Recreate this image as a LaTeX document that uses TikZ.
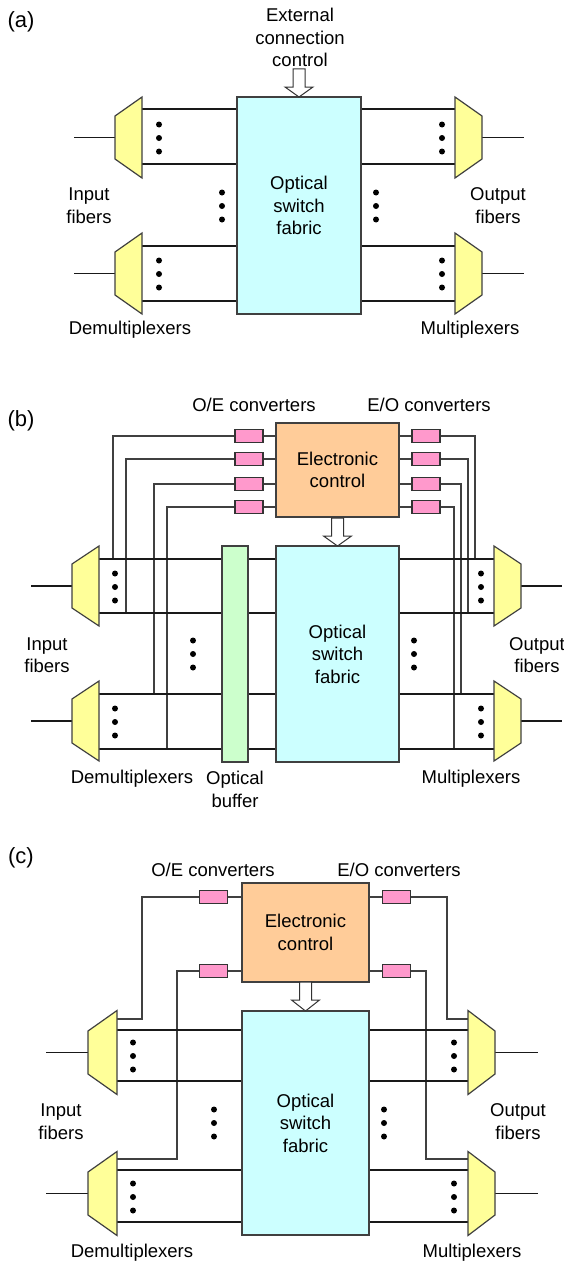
\documentclass[tikz,border=0pt]{standalone}
\usepackage{fontspec}
\setmainfont{Liberation Sans}
\definecolor{fabcol}{HTML}{CCFFFF}
\definecolor{muxcol}{HTML}{FFFF99}
\definecolor{ctlcol}{HTML}{FFCC99}
\definecolor{oecol}{HTML}{FF99CC}
\definecolor{bufcol}{HTML}{CCFFCC}
\newcommand\trapz[5]{\filldraw[boxline, fill=muxcol] (#1,#3-#4) -- (#1,#3+#4) -- (#2,#3+#5) -- (#2,#3-#5) -- cycle;}
\newcommand\mydots[2]{\fill (#1,#2-13.5) circle (3) (#1,#2) circle (3) (#1,#2+13.5) circle (3);}
\newcommand\hollowarrow[4]{\filldraw[draw=black!80, line width=1pt, fill=white] (#1-6,#2) -- (#1+6,#2) -- (#1+6,#3) -- (#1+14,#3) -- (#1,#4) -- (#1-14,#3) -- (#1-6,#3) -- cycle;}
\begin{document}
\begin{tikzpicture}[x=1pt,y=-1pt,
  lbl/.style={font=\fontsize{18.5}{22.5}\selectfont, align=center, inner sep=0pt},
  plbl/.style={font=\fontsize{22}{26}\selectfont, inner sep=0pt},
  chan/.style={line width=1.8pt, black!90},
  wire/.style={line width=1.1pt, black!75},
  boxline/.style={draw=black!75, line width=1.2pt},
  fabric/.style={boxline, fill=fabcol, align=center, inner sep=0pt, font=\fontsize{18.5}{22.5}\selectfont},
  ctl/.style={boxline, fill=ctlcol, align=center, inner sep=0pt, font=\fontsize{18.5}{22.5}\selectfont},
  buf/.style={boxline, fill=bufcol, inner sep=0pt},
  conv/.style={draw=black!80, line width=1.2pt, fill=oecol, minimum width=28pt, minimum height=13pt, inner sep=0pt}]
\useasboundingbox (0,0) rectangle (564,1263);

% ================= (a) =================
\foreach \y in {109,164,246,301} {
  \draw[chan] (142,\y) -- (237,\y);
  \draw[chan] (361,\y) -- (455,\y);
}
\draw[chan] (74,137.5) -- (115,137.5);
\draw[chan] (74,273.5) -- (115,273.5);
\draw[chan] (482,137.5) -- (524,137.5);
\draw[chan] (482,273.5) -- (524,273.5);
\trapz{142}{115}{137.5}{40.5}{21.5}
\trapz{142}{115}{273.5}{40.5}{21.5}
\trapz{455}{482}{137.5}{40.5}{21.5}
\trapz{455}{482}{273.5}{40.5}{21.5}
\node[fabric, minimum width=124pt, minimum height=217pt] (swA) at (299,205.5) {Optical\\switch\\fabric};
\hollowarrow{299}{69}{87}{97}
\mydots{159}{138}
\mydots{159}{274}
\mydots{222}{206}
\mydots{376}{206}
\mydots{442}{138}
\mydots{442}{274}
\node[plbl] (labA) at (21,22) {(a)};
\node[lbl] (extA) at (300,37.5) {External\\connection\\control};
\node[lbl] (inA) at (89,205.5) {Input\\fibers};
\node[lbl] (outA) at (498,205.5) {Output\\fibers};
\node[lbl] (demA) at (130,330) {Demultiplexers};
\node[lbl] (muxA) at (470,330) {Multiplexers};

% ================= (b) =================
\node[ctl, minimum width=123pt, minimum height=94pt] (ctlB) at (337.5,470) {Electronic\\control};
\foreach \i/\y/\xl/\xr/\yt in {1/436/113/475/559, 2/459/126/468/613, 3/484/154/461/694, 4/507/167/454/749} {
  \node[conv] (oeB\i) at (249,\y) {};
  \node[conv] (eoB\i) at (426,\y) {};
  \draw[wire] (oeB\i.east) -- (oeB\i.east -| ctlB.west);
  \draw[wire] (eoB\i.west) -- (eoB\i.west -| ctlB.east);
  \draw[wire] (oeB\i.west) -| (\xl,\yt);
  \draw[wire] (eoB\i.east) -| (\xr,\yt);
}
\foreach \y in {559,613,694,749} {
  \draw[chan] (99,\y) -- (222,\y);
  \draw[chan] (248,\y) -- (276,\y);
  \draw[chan] (399,\y) -- (494,\y);
}
\draw[chan] (31,586) -- (72,586);
\draw[chan] (31,721) -- (72,721);
\draw[chan] (521,586) -- (562,586);
\draw[chan] (521,721) -- (562,721);
\trapz{99}{72}{586}{40}{22}
\trapz{99}{72}{721}{40}{22}
\trapz{494}{521}{586}{40}{22}
\trapz{494}{521}{721}{40}{22}
\node[buf, minimum width=26pt, minimum height=216pt] (bufB) at (235,654) {};
\node[fabric, minimum width=123pt, minimum height=216pt] (swB) at (337.5,654) {Optical\\switch\\fabric};
\hollowarrow{337.5}{518}{536}{546}
\mydots{115}{587}
\mydots{115}{722}
\mydots{193}{654}
\mydots{414}{654}
\mydots{481}{587}
\mydots{481}{722}
\node[plbl] (labB) at (21,421) {(b)};
\node[lbl] (oeTB) at (254,405) {O/E converters};
\node[lbl] (eoTB) at (429,405) {E/O converters};
\node[lbl] (inB) at (47,655) {Input\\fibers};
\node[lbl] (outB) at (537,655) {Output\\fibers};
\node[lbl] (demB) at (132,779) {Demultiplexers};
\node[lbl] (bufT) at (235,789.5) {Optical\\buffer};
\node[lbl] (muxB) at (471,779) {Multiplexers};

% ================= (c) =================
\node[ctl, minimum width=127pt, minimum height=99pt] (ctlC) at (305.5,932.5) {Electronic\\control};
\node[conv] (oeC1) at (213.5,897) {};
\node[conv] (oeC2) at (213.5,971) {};
\node[conv] (eoC1) at (396.5,897) {};
\node[conv] (eoC2) at (396.5,971) {};
\foreach \n in {oeC1,oeC2} \draw[wire] (\n.east) -- (\n.east -| ctlC.west);
\foreach \n in {eoC1,eoC2} \draw[wire] (\n.west) -- (\n.west -| ctlC.east);
\draw[wire] (oeC1.west) -| (142,1019) -- (117,1019);
\draw[wire] (oeC2.west) -| (177,1159) -- (117,1159);
\draw[wire] (eoC1.east) -| (447,1019) -- (468,1019);
\draw[wire] (eoC2.east) -| (426,1159) -- (468,1159);
\foreach \y in {1030,1081,1170,1222} {
  \draw[chan] (117,\y) -- (242,\y);
  \draw[chan] (369,\y) -- (468,\y);
}
\draw[chan] (46,1052.5) -- (88,1052.5);
\draw[chan] (46,1193.5) -- (88,1193.5);
\draw[chan] (495,1052.5) -- (538,1052.5);
\draw[chan] (495,1193.5) -- (538,1193.5);
\trapz{117}{88}{1052.5}{42}{21.5}
\trapz{117}{88}{1193.5}{42}{21.5}
\trapz{468}{495}{1052.5}{42}{21.5}
\trapz{468}{495}{1193.5}{42}{21.5}
\node[fabric, minimum width=127pt, minimum height=224pt] (swC) at (305.5,1123) {Optical\\switch\\fabric};
\hollowarrow{305.5}{982}{1000}{1011}
\mydots{133}{1056}
\mydots{133}{1197}
\mydots{214}{1123}
\mydots{384}{1123}
\mydots{454}{1056}
\mydots{454}{1197}
\node[plbl] (labC) at (21,858) {(c)};
\node[lbl] (oeTC) at (213,870) {O/E converters};
\node[lbl] (eoTC) at (399,870) {E/O converters};
\node[lbl] (inC) at (61,1121.5) {Input\\fibers};
\node[lbl] (outC) at (518,1121.5) {Output\\fibers};
\node[lbl] (demC) at (132,1253) {Demultiplexers};
\node[lbl] (muxC) at (472,1253) {Multiplexers};
\end{tikzpicture}
\end{document}
